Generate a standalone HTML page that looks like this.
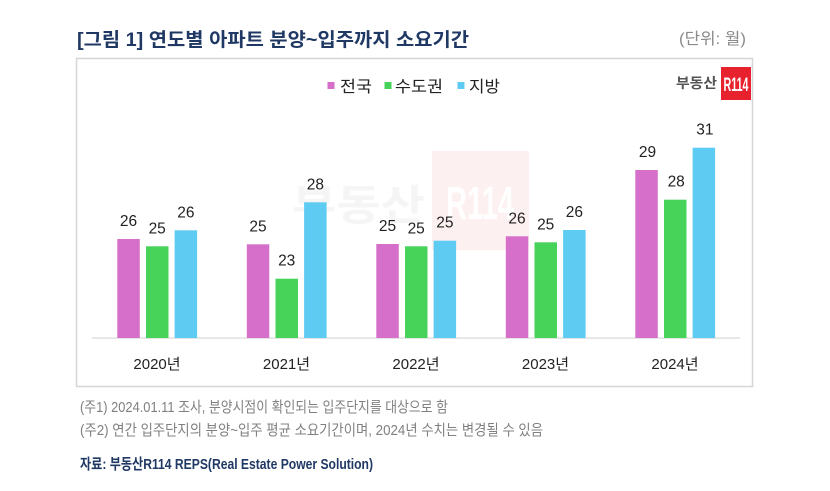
<!DOCTYPE html>
<html>
<head>
<meta charset="utf-8">
<style>
  html,body{margin:0;padding:0;background:#fff;}
  body{width:830px;height:491px;overflow:hidden;position:relative;}
  svg{position:absolute;left:0;top:0;}
  text{font-family:"Liberation Sans","Noto Sans CJK KR",sans-serif;}
</style>
</head>
<body>
<svg width="830" height="491" viewBox="0 0 830 491" xmlns="http://www.w3.org/2000/svg">
  <!-- Title -->
  <text x="77" y="46" font-size="19" font-weight="bold" fill="#203864" textLength="392" lengthAdjust="spacingAndGlyphs">[그림 1] 연도별 아파트 분양~입주까지 소요기간</text>
  <text x="679" y="44" font-size="16" fill="#8a8a8a" textLength="67" lengthAdjust="spacingAndGlyphs">(단위: 월)</text>

  <!-- Chart box -->
  <rect x="76.5" y="58.5" width="676" height="328" fill="#fff" stroke="#d6d6d6" stroke-width="1.5"/>

  <!-- Watermark -->
  <rect x="432" y="151" width="97" height="99" fill="#fdf0f0"/>
  <text x="446" y="219" font-size="46" font-weight="bold" fill="#ffffff" textLength="68" lengthAdjust="spacingAndGlyphs">R114</text>
  <text x="292" y="220" font-size="42" font-weight="bold" fill="#f5f5f5" textLength="133" lengthAdjust="spacingAndGlyphs">부동산</text>

  <!-- Legend -->
  <rect x="327.5" y="82" width="7" height="7" fill="#d66fca"/>
  <text x="340" y="92" font-size="16" fill="#222" textLength="32" lengthAdjust="spacingAndGlyphs">전국</text>
  <rect x="384.5" y="82" width="7" height="7" fill="#47d35a"/>
  <text x="395" y="92" font-size="16" fill="#222" textLength="48" lengthAdjust="spacingAndGlyphs">수도권</text>
  <rect x="457.5" y="82" width="7" height="7" fill="#5ecbf2"/>
  <text x="469" y="92" font-size="16" fill="#222" textLength="31" lengthAdjust="spacingAndGlyphs">지방</text>

  <!-- Logo -->
  <text x="676" y="88" font-size="14" font-weight="bold" fill="#555" textLength="41" lengthAdjust="spacingAndGlyphs">부동산</text>
  <rect x="721" y="67" width="30" height="33" fill="#e8212e"/>
  <text x="736" y="91" font-size="19" font-weight="bold" fill="#fff" text-anchor="middle" textLength="25" lengthAdjust="spacingAndGlyphs">R114</text>

  <!-- Axis line -->
  <rect x="92" y="337.5" width="648" height="1.2" fill="#d9d9d9"/>

  <!-- Bars: 2020 -->
  <rect x="117.3" y="239" width="22.5" height="99" fill="#d66fca"/>
  <rect x="146" y="246.3" width="22.5" height="91.7" fill="#47d35a"/>
  <rect x="174.6" y="230.3" width="22.5" height="107.7" fill="#5ecbf2"/>
  <!-- 2021 -->
  <rect x="246.8" y="244.3" width="22.5" height="93.7" fill="#d66fca"/>
  <rect x="275.5" y="278.7" width="22.5" height="59.3" fill="#47d35a"/>
  <rect x="304.1" y="202.3" width="22.5" height="135.7" fill="#5ecbf2"/>
  <!-- 2022 -->
  <rect x="376.3" y="244" width="22.5" height="94" fill="#d66fca"/>
  <rect x="405" y="246.3" width="22.5" height="91.7" fill="#47d35a"/>
  <rect x="433.6" y="240.7" width="22.5" height="97.3" fill="#5ecbf2"/>
  <!-- 2023 -->
  <rect x="505.8" y="236.3" width="22.5" height="101.7" fill="#d66fca"/>
  <rect x="534.5" y="242.3" width="22.5" height="95.7" fill="#47d35a"/>
  <rect x="563.1" y="230" width="22.5" height="108" fill="#5ecbf2"/>
  <!-- 2024 -->
  <rect x="635.3" y="170" width="22.5" height="168" fill="#d66fca"/>
  <rect x="664" y="199.7" width="22.5" height="138.3" fill="#47d35a"/>
  <rect x="692.6" y="147.7" width="22.5" height="190.3" fill="#5ecbf2"/>

  <!-- Value labels -->
  <g font-size="15.5" fill="#222" text-anchor="middle">
    <text x="128.5" y="226">26</text>
    <text x="157.2" y="233.3">25</text>
    <text x="185.9" y="217.3">26</text>

    <text x="258" y="231.3">25</text>
    <text x="286.7" y="265.7">23</text>
    <text x="315.4" y="189.3">28</text>

    <text x="387.5" y="231">25</text>
    <text x="416.2" y="233.3">25</text>
    <text x="444.9" y="227.7">25</text>

    <text x="517" y="223.3">26</text>
    <text x="545.7" y="229.3">25</text>
    <text x="574.4" y="217">26</text>

    <text x="647.5" y="157">29</text>
    <text x="676.2" y="186.7">28</text>
    <text x="704.9" y="134.7">31</text>
  </g>

  <!-- Category labels -->
  <g font-size="15" fill="#222" text-anchor="middle">
    <text x="157" y="369">2020년</text>
    <text x="286.5" y="369">2021년</text>
    <text x="416" y="369">2022년</text>
    <text x="545.5" y="369">2023년</text>
    <text x="675" y="369">2024년</text>
  </g>

  <!-- Footnotes -->
  <text x="80" y="412" font-size="15" fill="#808080" textLength="368" lengthAdjust="spacingAndGlyphs">(주1) 2024.01.11 조사, 분양시점이 확인되는 입주단지를 대상으로 함</text>
  <text x="80" y="435" font-size="15" fill="#808080" textLength="463" lengthAdjust="spacingAndGlyphs">(주2) 연간 입주단지의 분양~입주 평균 소요기간이며, 2024년 수치는 변경될 수 있음</text>
  <text x="80" y="469" font-size="15" font-weight="bold" fill="#203864" textLength="293" lengthAdjust="spacingAndGlyphs">자료: 부동산R114 REPS(Real Estate Power Solution)</text>
</svg>
</body>
</html>
